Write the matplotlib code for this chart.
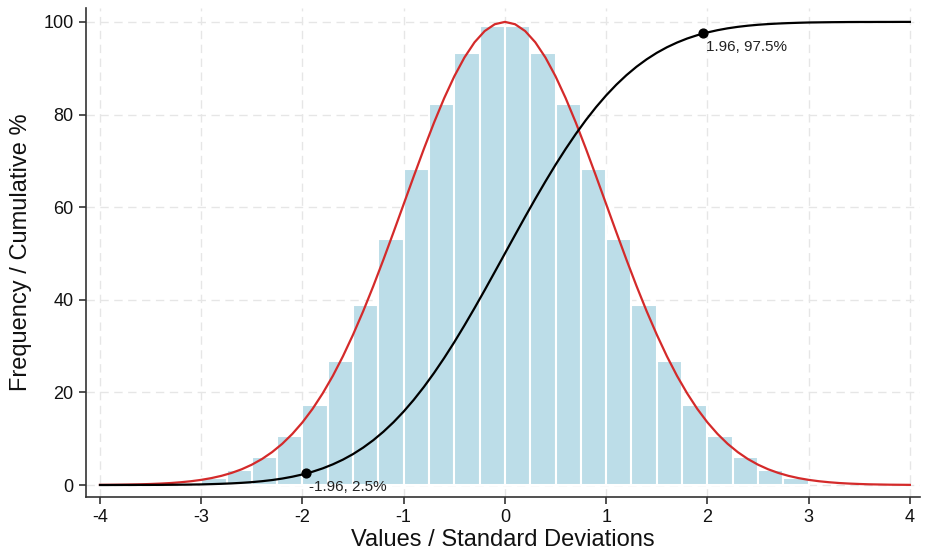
import matplotlib
matplotlib.use("Agg")
import matplotlib.pyplot as plt

# Histogram bins (left edges) and heights
bin_lefts = [-3.0, -2.75, -2.5, -2.25, -2.0, -1.75, -1.5, -1.25, -1.0, -0.75, -0.5, -0.25,
             0.0, 0.25, 0.5, 0.75, 1.0, 1.25, 1.5, 1.75, 2.0, 2.25, 2.5, 2.75]
bar_heights = [1.6, 3.2, 6.0, 10.5, 17.2, 26.7, 38.9, 53.1, 68.2, 82.3, 93.2, 99.2,
               99.2, 93.2, 82.3, 68.2, 53.1, 38.9, 26.7, 17.2, 10.5, 6.0, 3.2, 1.6]

# Curve sample points
curve_x = [-4.0, -3.9, -3.8, -3.7, -3.6, -3.5, -3.4, -3.3, -3.2, -3.1,
           -3.0, -2.9, -2.8, -2.7, -2.6, -2.5, -2.4, -2.3, -2.2, -2.1,
           -2.0, -1.9, -1.8, -1.7, -1.6, -1.5, -1.4, -1.3, -1.2, -1.1,
           -1.0, -0.9, -0.8, -0.7, -0.6, -0.5, -0.4, -0.3, -0.2, -0.1,
           0.0, 0.1, 0.2, 0.3, 0.4, 0.5, 0.6, 0.7, 0.8, 0.9,
           1.0, 1.1, 1.2, 1.3, 1.4, 1.5, 1.6, 1.7, 1.8, 1.9,
           2.0, 2.1, 2.2, 2.3, 2.4, 2.5, 2.6, 2.7, 2.8, 2.9,
           3.0, 3.1, 3.2, 3.3, 3.4, 3.5, 3.6, 3.7, 3.8, 3.9, 4.0]
density_curve = [0.03, 0.05, 0.07, 0.11, 0.15, 0.22, 0.31, 0.43, 0.60, 0.82,
                 1.11, 1.49, 1.98, 2.61, 3.40, 4.39, 5.61, 7.10, 8.89, 11.03,
                 13.53, 16.44, 19.79, 23.56, 27.80, 32.47, 37.53, 42.96, 48.68, 54.61,
                 60.65, 66.69, 72.61, 78.27, 83.53, 88.25, 92.31, 95.60, 98.02, 99.50,
                 100.0, 99.50, 98.02, 95.60, 92.31, 88.25, 83.53, 78.27, 72.61, 66.69,
                 60.65, 54.61, 48.68, 42.96, 37.53, 32.47, 27.80, 23.56, 19.79, 16.44,
                 13.53, 11.03, 8.89, 7.10, 5.61, 4.39, 3.40, 2.61, 1.98, 1.49,
                 1.11, 0.82, 0.60, 0.43, 0.31, 0.22, 0.15, 0.11, 0.07, 0.05, 0.03]
cumulative_curve = [0.0, 0.0, 0.01, 0.01, 0.02, 0.02, 0.03, 0.05, 0.07, 0.10,
                    0.13, 0.19, 0.26, 0.35, 0.47, 0.62, 0.82, 1.07, 1.39, 1.79,
                    2.28, 2.87, 3.59, 4.46, 5.48, 6.68, 8.08, 9.68, 11.51, 13.57,
                    15.87, 18.41, 21.19, 24.20, 27.43, 30.85, 34.46, 38.21, 42.07, 46.02,
                    50.0, 53.98, 57.93, 61.79, 65.54, 69.15, 72.57, 75.80, 78.81, 81.59,
                    84.13, 86.43, 88.49, 90.32, 91.92, 93.32, 94.52, 95.54, 96.41, 97.13,
                    97.72, 98.21, 98.61, 98.93, 99.18, 99.38, 99.53, 99.65, 99.74, 99.81,
                    99.87, 99.90, 99.93, 99.95, 99.97, 99.98, 99.98, 99.99, 99.99, 100.0, 100.0]

marker_x = [-1.96, 1.96]
marker_y = [2.5, 97.5]
marker_labels = ["-1.96, 2.5%", "1.96, 97.5%"]

x_ticks = [-4, -3, -2, -1, 0, 1, 2, 3, 4]
y_ticks = [0, 20, 40, 60, 80, 100]

plt.rcParams['font.family'] = ['Liberation Sans', 'DejaVu Sans']

fig = plt.figure(figsize=(9.29, 5.5), dpi=100)
ax = fig.add_axes([86/929, 53/550, 834/929, 489/550])

ax.bar(bin_lefts, bar_heights, width=0.25, align='edge', color='#bcdde8',
       edgecolor='white', linewidth=1.5, zorder=2)
ax.plot(curve_x, density_curve, color='#d42a2a', linewidth=1.6, zorder=3)
ax.plot(curve_x, cumulative_curve, color='black', linewidth=1.6, zorder=4)
ax.scatter(marker_x, marker_y, s=40, color='black', zorder=5)
for mx, my, lab in zip(marker_x, marker_y, marker_labels):
    ax.annotate(lab, (mx, my), xytext=(2, -5), textcoords='offset points',
                ha='left', va='top', fontsize=11, color='#222222', zorder=6)

ax.set_xlim(-4.138, 4.10)
ax.set_ylim(-2.59, 103.0)
ax.set_xticks(x_ticks)
ax.set_yticks(y_ticks)
ax.set_xticklabels([str(t) for t in x_ticks])
ax.set_yticklabels([str(t) for t in y_ticks])
ax.grid(True, linestyle=(0, (6, 4)), color='#e6e6e6', linewidth=1.0, zorder=0)
ax.set_axisbelow(True)
for s in ['top', 'right']:
    ax.spines[s].set_visible(False)
for s in ['left', 'bottom']:
    ax.spines[s].set_color('#333333')
    ax.spines[s].set_linewidth(1.2)
ax.tick_params(axis='both', direction='out', length=5, width=1.2, color='#333333',
               labelsize=13, labelcolor='#111111', pad=4)
ax.set_xlabel('Values / Standard Deviations', fontsize=17, color='#111111', labelpad=2)
ax.set_ylabel('Frequency / Cumulative %', fontsize=17, color='#111111', labelpad=8)

fig.savefig('out.png', dpi=100)
